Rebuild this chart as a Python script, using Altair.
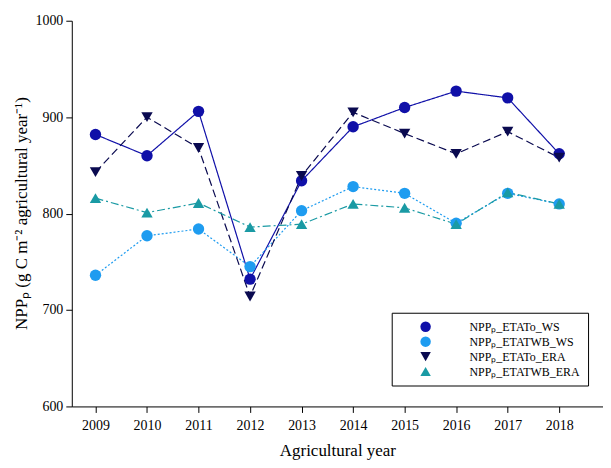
import altair as alt
import pandas as pd

years = [2009, 2010, 2011, 2012, 2013, 2014, 2015, 2016, 2017, 2018]
etato_ws = [882, 860, 906, 732, 834, 890, 910, 927, 920, 862]
etatwb_ws = [736, 777, 784, 745, 803, 828, 821, 790, 821, 810]
etato_era = [843, 900, 868, 714, 839, 905, 883, 862, 885, 858]
etatwb_era = [816, 801, 811, 786, 789, 810, 806, 789, 822, 810]

names = ["NPPₚ_ETATo_WS", "NPPₚ_ETATWB_WS", "NPPₚ_ETATo_ERA", "NPPₚ_ETATWB_ERA"]
colors = ["#1010a8", "#1e9cf0", "#0a0a50", "#1a9aa4"]
shapes = ["circle", "circle", "triangle-down", "triangle-up"]
dashes = [[1, 0], [2, 2], [8, 4], [8, 3, 2, 3]]

rows = []
for name, vals in zip(names, [etato_ws, etatwb_ws, etato_era, etatwb_era]):
    for y, v in zip(years, vals):
        rows.append({"year": y, "npp": v, "series": name})
df = pd.DataFrame(rows)

font = "Liberation Serif"

x = alt.X("year:Q", scale=alt.Scale(domain=[2008.54, 2018.85], nice=False, zero=False),
          axis=alt.Axis(values=years, format="d", title="Agricultural year", grid=False,
                        tickSize=6, labelPadding=6, titlePadding=10))
y = alt.Y("npp:Q", scale=alt.Scale(domain=[600, 1000], nice=False, zero=False),
          axis=alt.Axis(values=[600, 700, 800, 900, 1000], format="d",
                        title="NPPₚ (g C m⁻² agricultural year⁻¹)",
                        grid=False, tickSize=6, labelPadding=3,
                        titleX=-50, titleY=193, titleAngle=-90,
                        titleAlign="center", titleBaseline="middle"))

color = alt.Color("series:N", scale=alt.Scale(domain=names, range=colors), title=None,
                  legend=alt.Legend(orient="none", legendX=321, legendY=293,
                                    strokeColor="black", padding=8, labelFont=font,
                                    labelFontSize=12, labelColor="black", symbolSize=110,
                                    rowPadding=3, symbolOffset=20, labelOffset=38,
                                    fillColor="white", symbolStrokeWidth=0))
shape = alt.Shape("series:N", scale=alt.Scale(domain=names, range=shapes), title=None)
dash = alt.StrokeDash("series:N", scale=alt.Scale(domain=names, range=dashes), legend=None)

base = alt.Chart(df).encode(x=x, y=y, detail="series:N")
lines = base.mark_line(strokeWidth=1.2).encode(color=color, strokeDash=dash)
points = base.mark_point(filled=True, size=130, opacity=1).encode(color=color, shape=shape)

chart = alt.layer(lines, points).properties(
    width=533, height=387,
    autosize=alt.AutoSizeParams(type="none"),
    padding={"left": 64, "top": 12, "right": 0, "bottom": 60},
    background="white",
).configure_view(stroke=None).configure_axis(
    labelFont=font, titleFont=font, labelFontSize=14, titleFontSize=17,
    titleFontWeight="normal", labelColor="black", titleColor="black",
    domainColor="black", tickColor="black"
).configure_legend(labelFont=font)

chart.save("out.html", embed_options={"renderer": "svg", "actions": False})
